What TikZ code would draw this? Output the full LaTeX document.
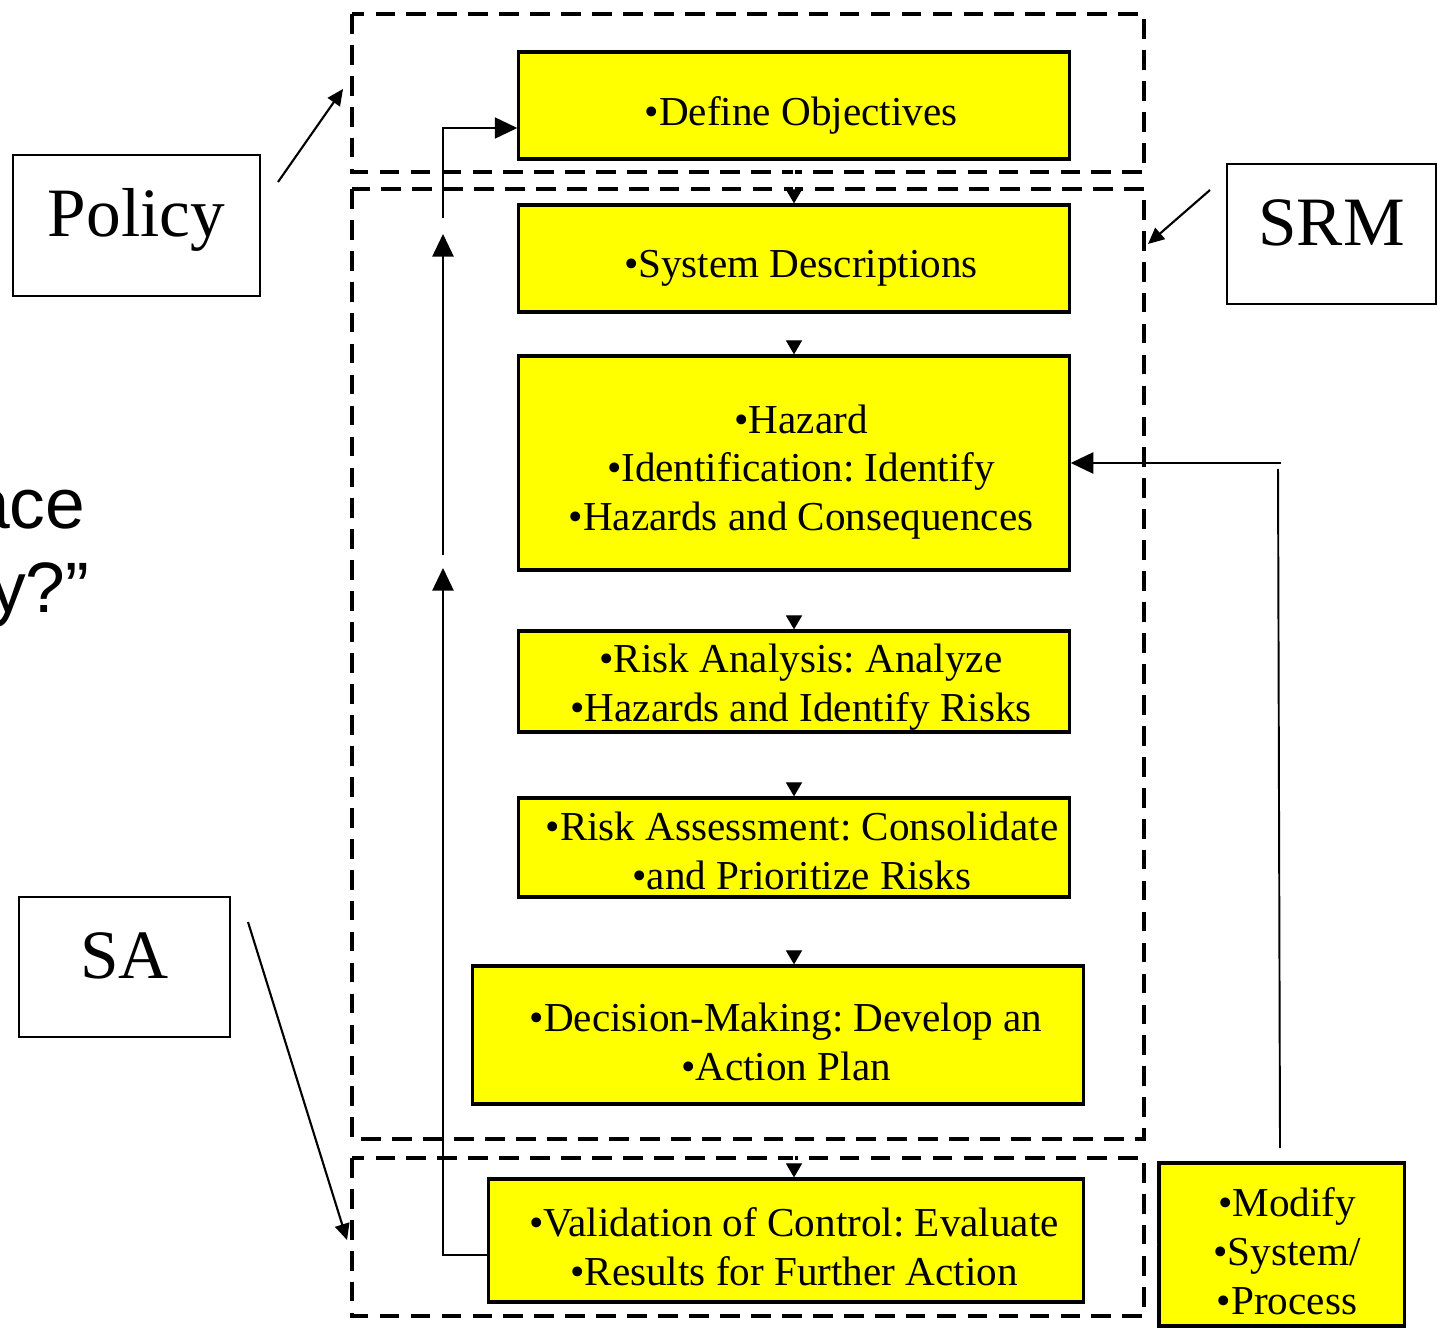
\documentclass[tikz,border=0pt]{standalone}
\usepackage{fontspec}
\setmainfont{Liberation Serif}
\newfontfamily\arialfont{Liberation Sans}
\usetikzlibrary{arrows.meta}
\definecolor{stepyellow}{RGB}{255,255,0}
\frenchspacing

\begin{document}
\begin{tikzpicture}[x=0.01cm,y=-0.01cm,
  stepbox/.style={draw=black, line width=0.9pt, fill=stepyellow, inner sep=0pt},
  steptext/.style={font=\fontsize{11.7}{13.9}\selectfont, align=center, inner sep=0pt},
  tagbox/.style={draw=black, line width=0.55pt, fill=white, inner sep=0pt,
    font=\fontsize{19.7}{22}\selectfont, text height=14pt, text depth=7.7pt},
  zone/.style={draw=black, line width=1.15pt, dash pattern=on 5.6pt off 3.2pt},
  flow/.style={white, line width=0.35pt, -{Triangle[length=4pt,width=4.6pt,color=black]}},
  backline/.style={black, line width=0.55pt},
  backtip/.style={backline, -{Triangle[length=6.4pt,width=6pt]}},
  pointer/.style={black, line width=0.6pt, -{Triangle[length=4.6pt,width=4.2pt]}},
]
\useasboundingbox (0,0) rectangle (1437,1328);

% cut-off slide text on the left
\node[font=\arialfont\fontsize{20.3}{24}\selectfont, anchor=base east, inner sep=0pt] (lefta) at (86,528) {ace};
\node[font=\arialfont\fontsize{20.3}{24}\selectfont, anchor=base east, inner sep=0pt] (leftb) at (90,612) {y?”};

% dashed zones: Policy, SRM, SA
\draw[zone] (352,14) rectangle (1144,172);
\draw[zone] (352,189) rectangle (1144,1139);
\draw[zone] (352,1158) rectangle (1144,1316);

% process steps
\node[stepbox, minimum width=5.50cm, minimum height=1.07cm] (obj) at (794,105.5) {};
\node[stepbox, minimum width=5.50cm, minimum height=1.07cm] (sys) at (794,258.5) {};
\node[stepbox, minimum width=5.50cm, minimum height=2.14cm] (haz) at (794,463) {};
\node[stepbox, minimum width=5.50cm, minimum height=1.01cm] (ana) at (794,681.5) {};
\node[stepbox, minimum width=5.50cm, minimum height=0.99cm] (ass) at (794,847.5) {};
\node[stepbox, minimum width=6.10cm, minimum height=1.38cm] (dec) at (778,1035) {};
\node[stepbox, minimum width=5.94cm, minimum height=1.23cm] (val) at (786,1240.5) {};
\node[stepbox, minimum width=2.45cm, minimum height=1.63cm] (mod) at (1281.5,1244.5) {};

\node[steptext] (objt) at (801,115) {•Define Objectives};
\node[steptext] (syst) at (801,268) {•System Descriptions};
\node[steptext] (hazt) at (801,472) {•Hazard\\•Identification: Identify\\•Hazards and Consequences};
\node[steptext] (anat) at (801,687) {•Risk Analysis: Analyze\\•Hazards and Identify Risks};
\node[steptext] (asst) at (802,851) {•Risk Assessment: Consolidate\\•and Prioritize Risks};
\node[steptext] (dect) at (786,1042) {•Decision-Making: Develop an\\•Action Plan};
\node[steptext] (valt) at (794,1247) {•Validation of Control: Evaluate\\•Results for Further Action};
\node[steptext] (modt) at (1287,1251) {•Modify\\•System/\\•Process};

% label boxes
\node[tagbox, minimum width=2.47cm, minimum height=1.41cm] (policy) at (136.5,225.5) {Policy};
\node[tagbox, minimum width=2.09cm, minimum height=1.40cm] (srm) at (1331.5,234) {SRM};
\node[tagbox, minimum width=2.11cm, minimum height=1.40cm] (sa) at (124.5,967) {SA};

% forward flow between steps
\draw[flow] (obj) -- (sys);
\draw[flow] (sys) -- (haz);
\draw[flow] (haz) -- (ana);
\draw[flow] (ana) -- (ass);
\draw[flow] (ass) -- (dec.north -| ass.south);
\draw[flow] (dec.south -| ass.south) -- (val.north -| ass.south);
\draw[white, line width=0.35pt, -{Triangle[length=3pt,width=4pt,color=white]}] (val.east |- mod.west) -- (mod.west);

% feedback on the left
\coordinate (upa) at (443,568);
\coordinate (upb0) at (443,555);
\coordinate (upb) at (443,234);
\coordinate (upc0) at (443,218);
\draw[backtip] ([yshift=-0.145cm]val.west) -| (upa);
\draw[backtip] (upb0) -- (upb);
\draw[backtip] (upc0) |- ([yshift=-0.225cm]obj.west);

% feedback on the right
\coordinate (modtop) at (1280,1148);
\coordinate (modup) at (1278,469);
\coordinate (hazin) at (1281,463);
\draw[backline] (modtop) -- (modup);
\draw[backtip] (hazin) -- (hazin -| haz.east);

% pointers from the labels to their zones
\coordinate (policyp) at (278,182);
\coordinate (policyq) at (343,89);
\coordinate (srmp) at (1210,190);
\coordinate (srmq) at (1148,244);
\coordinate (sap) at (248,922);
\coordinate (saq) at (347,1240);
\draw[pointer] (policyp) -- (policyq);
\draw[pointer] (srmp) -- (srmq);
\draw[pointer] (sap) -- (saq);
\end{tikzpicture}
\end{document}
